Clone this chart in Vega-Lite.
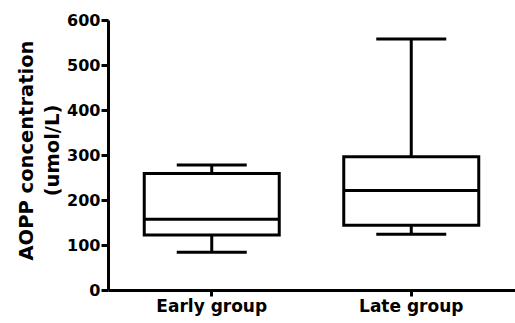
{
  "$schema": "https://vega.github.io/schema/vega-lite/v6.json",
  "autosize": {"type": "none"},
  "width": 407,
  "height": 270,
  "padding": {"left": 108, "top": 20, "right": 0, "bottom": 33},
  "background": "white",
  "config": {
    "view": {"stroke": null},
    "font": "DejaVu Sans",
    "axis": {"grid": false, "domainColor": "black", "tickColor": "black", "labelColor": "black", "titleColor": "black", "domainWidth": 3, "tickWidth": 3}
  },
  "data": {"values": [
    {"group": "Early group", "lower": 84, "q1": 122, "median": 157, "q3": 259, "upper": 278},
    {"group": "Late group", "lower": 124, "q1": 144, "median": 221, "q3": 296, "upper": 558}
  ]},
  "encoding": {
    "x": {"field": "group", "type": "nominal", "sort": null,
      "scale": {"paddingInner": 0, "paddingOuter": 0.02},
      "axis": {"title": null, "labelAngle": 0, "labelFontSize": 17, "labelFontWeight": "bold", "tickSize": 6, "labelPadding": 2, "domainWidth": 3}}
  },
  "layer": [
    {
      "mark": {"type": "rule", "color": "black", "strokeWidth": 3},
      "encoding": {
        "y": {"field": "lower", "type": "quantitative",
          "scale": {"domain": [0, 600], "nice": false},
          "axis": {"title": ["AOPP concentration", "(umol/L)"], "titleFontSize": 19.5, "titleFontWeight": "bold", "titlePadding": 4, "titleLineHeight": 26, "titleY": 130,
            "values": [0, 100, 200, 300, 400, 500, 600], "labelFontSize": 16, "labelFontWeight": "bold", "tickSize": 7, "labelPadding": 1}},
        "y2": {"field": "upper"}
      }
    },
    {
      "mark": {"type": "bar", "fill": "white", "stroke": "black", "strokeWidth": 3, "size": 135},
      "encoding": {
        "y": {"field": "q1", "type": "quantitative"},
        "y2": {"field": "q3"}
      }
    },
    {
      "mark": {"type": "tick", "color": "black", "thickness": 3, "size": 135, "opacity": 1},
      "encoding": {"y": {"field": "median", "type": "quantitative"}}
    },
    {
      "mark": {"type": "tick", "color": "black", "thickness": 3, "size": 70, "opacity": 1},
      "encoding": {"y": {"field": "lower", "type": "quantitative"}}
    },
    {
      "mark": {"type": "tick", "color": "black", "thickness": 3, "size": 70, "opacity": 1},
      "encoding": {"y": {"field": "upper", "type": "quantitative"}}
    }
  ]
}
